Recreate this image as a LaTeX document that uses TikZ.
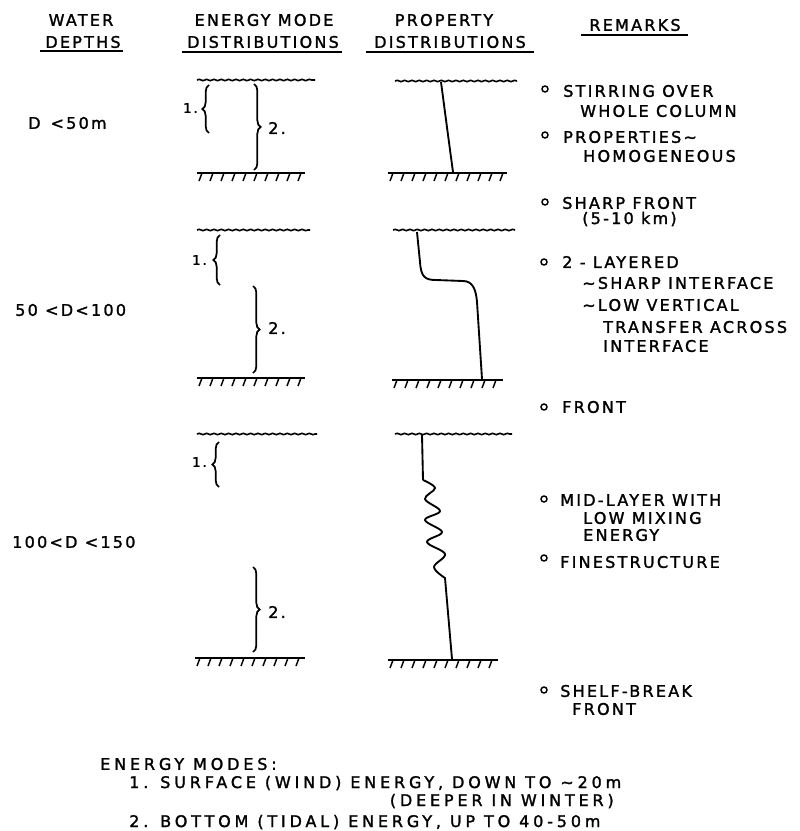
\documentclass[tikz,border=0pt]{standalone}
\usepackage{fontspec}
\usetikzlibrary{decorations.pathmorphing,decorations.pathreplacing}
\newfontfamily\lett[LetterSpace=14,FakeBold=1.6]{DejaVu Sans}
\newfontfamily\lettw[LetterSpace=24,FakeBold=1.6]{DejaVu Sans}
\newcommand\lf{\lett\fontsize{12}{14}\selectfont}
\newcommand\lfw{\lettw\fontsize{12}{14}\selectfont}
\newcommand\lfs{\lett\fontsize{10}{12}\selectfont}
\newcommand\seabed[3]{%
  \draw[bedline] (#1,#3) -- (#2,#3);
  \pgfmathsetmacro\hxa{#1+5}\pgfmathsetmacro\hxb{#1+16}\pgfmathsetmacro\hxe{#2-1}
  \foreach \hx in {\hxa,\hxb,...,\hxe} {\draw[hatch] (\hx,#3) -- ++(-3,8);}
}
\begin{document}
\begin{tikzpicture}[x=0.75pt,y=-0.75pt,
  txt/.style={font=\lf, inner sep=0pt, anchor=west},
  ctxt/.style={font=\lf, inner sep=0pt},
  legtxt/.style={font=\lfw, inner sep=0pt, anchor=west},
  uline/.style={line width=1.3pt},
  surf/.style={line width=1.2pt, decorate, decoration={snake, amplitude=0.5pt, segment length=5.5pt}},
  bedline/.style={line width=1.4pt},
  hatch/.style={line width=1.1pt},
  prof/.style={line width=1.4pt},
  brc/.style={line width=1.3pt, decorate, decoration={brace, amplitude=5pt}},
  bul/.style={circle, draw, line width=1.1pt, inner sep=0pt, minimum size=4.5pt}]
\useasboundingbox (0,0) rectangle (799,831);

% headers
\node[ctxt] (h1a) at (81,20) {WATER};
\node[ctxt] (h1b) at (83,42) {DEPTHS};
\draw[uline] (40,51) -- (123,51);
\node[ctxt] (h2a) at (264,20) {ENERGY MODE};
\node[ctxt] (h2b) at (263,42) {DISTRIBUTIONS};
\draw[uline] (182,52) -- (342,52);
\node[ctxt] (h3a) at (444,20) {PROPERTY};
\node[ctxt] (h3b) at (450,42) {DISTRIBUTIONS};
\draw[uline] (366,52) -- (534,52);
\node[ctxt] (h4) at (635,25) {REMARKS};
\draw[uline] (581,35) -- (688,35);

% depth labels
\node[txt] (d1) at (28,123) {D \,<50m};
\node[txt] (d2) at (15,310) {50 <D<100};
\node[txt] (d3) at (12,542) {100<D <150};

% ---------- panel 1 ----------
\draw[surf] (197,80) -- (315,80);
\seabed{197}{305}{173}
\draw[brc] (209,133) -- (209,85);
\node[inner sep=0pt, anchor=east, font=\lfs] (e1a) at (198,108) {1.};
\draw[brc] (254,84) -- (254,170);
\node[txt] (e1b) at (268,128) {2.};

\draw[surf] (395,81) -- (517,81);
\seabed{388}{507}{173}
\coordinate (p1t) at (441,82);
\coordinate (p1b) at (453,172);
\draw[prof] (p1t) .. controls (446,120) and (450,150) .. (p1b);

% ---------- panel 2 ----------
\draw[surf] (197,230) -- (310,230);
\seabed{197}{305}{378}
\draw[brc] (220,285) -- (220,235);
\node[inner sep=0pt, anchor=east, font=\lfs] (e2a) at (207,260) {1.};
\draw[brc] (253,286) -- (253,373);
\node[txt] (e2b) at (268,328) {2.};

\draw[surf] (393,230) -- (515,230);
\seabed{392}{503}{380}
\coordinate (p2t) at (417,232);
\coordinate (p2b) at (482,379);
\draw[prof] (p2t) -- (420,262) .. controls (421,277) and (425,280) .. (436,280)
  -- (463,281) .. controls (473,281) and (476,290) .. (477,302) -- (p2b);

% ---------- panel 3 ----------
\draw[surf] (197,434) -- (317,434);
\seabed{195}{305}{658}
\draw[brc] (219,487) -- (219,442);
\node[inner sep=0pt, anchor=east, font=\lfs] (e3a) at (207,462) {1.};
\draw[brc] (253,567) -- (253,652);
\node[txt] (e3b) at (268,612) {2.};

\draw[surf] (395,434) -- (512,434);
\seabed{388}{498}{660}
\coordinate (p3t) at (422,435);
\coordinate (p3b) at (452,659);
\draw[prof] (p3t) -- (423,480) plot[smooth, tension=0.6] coordinates
  {(423,480) (435,488) (425,499) (440,511) (425,520) (442,532) (427,542) (445,554) (434,567) (445,578)}
  -- (p3b);

% ---------- remarks ----------
\node[bul] (b1) at (545,89) {};
\node[txt] (r1) at (563,91) {STIRRING OVER};
\node[txt] (r1b) at (580,111) {WHOLE COLUMN};
\node[bul] (b2) at (545,135) {};
\node[txt] (r2) at (563,137) {PROPERTIES∼};
\node[txt] (r2b) at (583,156) {HOMOGENEOUS};
\node[bul] (b3) at (545,202) {};
\node[txt] (r3) at (562,203) {SHARP FRONT};
\node[txt] (r3b) at (582,219) {(5-10 km)};

\node[bul] (b4) at (544,262) {};
\node[txt] (r4) at (562,262) {2 - LAYERED};
\node[txt] (r4b) at (582,283) {∼SHARP INTERFACE};
\node[txt] (r4c) at (582,305) {∼LOW VERTICAL};
\node[txt] (r4d) at (603,327) {TRANSFER ACROSS};
\node[txt] (r4e) at (603,346) {INTERFACE};
\node[bul] (b5) at (544,407) {};
\node[txt] (r5) at (562,407) {FRONT};

\node[bul] (b6) at (544,499) {};
\node[txt] (r6) at (560,500) {MID-LAYER WITH};
\node[txt] (r6b) at (583,518) {LOW MIXING};
\node[txt] (r6c) at (583,535) {ENERGY};
\node[bul] (b7) at (544,558) {};
\node[txt] (r7) at (560,562) {FINESTRUCTURE};
\node[bul] (b8) at (544,690) {};
\node[txt] (r8) at (560,691) {SHELF-BREAK};
\node[txt] (r8b) at (572,709) {FRONT};

% ---------- legend ----------
\node[legtxt] (l0) at (100,764) {ENERGY MODES:};
\node[legtxt] (l1) at (129,783) {1. SURFACE (WIND) ENERGY, DOWN TO ∼20m};
\node[legtxt,anchor=east] (l1b) at (614,801) {(DEEPER IN WINTER)};
\node[legtxt] (l2) at (129,822) {2. BOTTOM (TIDAL) ENERGY, UP TO 40-50m};
\end{tikzpicture}
\end{document}
